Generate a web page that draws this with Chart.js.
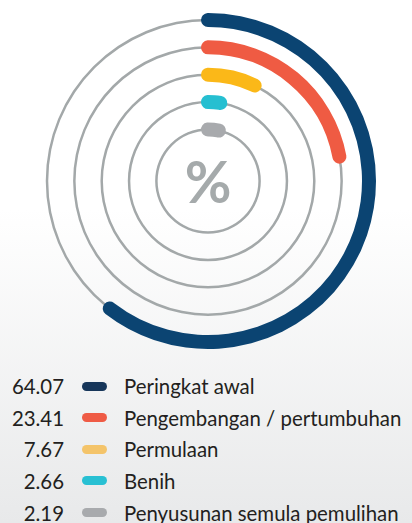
<!DOCTYPE html>
<html><head><meta charset="utf-8">
<script src="https://cdn.jsdelivr.net/npm/chart.js@4/dist/chart.umd.min.js"></script>
<style>
html,body{margin:0;padding:0;}
body{width:412px;height:523px;overflow:hidden;position:relative;
  background:linear-gradient(to bottom,#ffffff 0%,#ffffff 40%,#e8e9ea 100%);
  font-family:Lato,'Open Sans',sans-serif;color:#231f20;}
.chartbox{position:absolute;left:38px;top:11px;width:340px;height:340px;}
.chartbox canvas{position:absolute;left:0;top:0;}
#pct{position:absolute;left:38px;top:11px;width:340px;height:340px;display:flex;align-items:center;justify-content:center;
  font-size:57px;font-weight:700;color:#a5aaab;line-height:1;pointer-events:none;}
.row{position:absolute;left:0;height:32px;display:flex;align-items:center;font-size:20.4px;white-space:nowrap;}
.row .val{width:64px;text-align:right;}
.row .sw{width:25px;height:9px;border-radius:4.5px;margin-left:18px;margin-right:17px;}
</style></head>
<body>
<div class="chartbox" id="boxA"><canvas id="rings" width="340" height="340"></canvas></div>
<div class="chartbox" id="boxB"><canvas id="arcs" width="340" height="340"></canvas></div>
<div id="pct">%</div>
<div id="legend"></div>
<script>
// ---- data ----
const categories = ['Peringkat awal', 'Pengembangan / pertumbuhan', 'Permulaan', 'Benih', 'Penyusunan semula pemulihan'];
const values = [64.07, 23.41, 7.67, 2.66, 2.19];
const valueLabels = ['64.07', '23.41', '7.67', '2.66', '2.19'];

// ---- styling ----
const arcColors = ['#0b4472', '#ef5b43', '#fbb818', '#26bfd1', '#a8aaad'];
const legendColors = ['#17365a', '#ef5b45', '#f4c46a', '#28c0d3', '#a8aaad'];
const ringGray = '#a3a8a9';
const fullScale = 106;             // units per full turn
const minArcPx = 11;               // minimum visible arc length
const ringR = [161, 133.65, 106.3, 78.95, 51.6];
const band = 14, line = 2.5;
const legendRowY = [386, 417.5, 449, 480.8, 512.5];

// gray guide rings
const ringSets = [];
ringR.forEach((r, i) => {
  ringSets.push({data: [1], backgroundColor: ringGray, weight: line, borderWidth: 0});
  if (i < ringR.length - 1) ringSets.push({data: [1], backgroundColor: 'rgba(0,0,0,0)', weight: ringR[i] - ringR[i + 1] - line, borderWidth: 0});
});
const outerA = ringR[0] + line / 2, innerA = ringR[ringR.length - 1] - line / 2;
new Chart(document.getElementById('rings'), {
  type: 'doughnut',
  data: {labels: ['ring'], datasets: ringSets},
  options: {responsive: false, animation: false, events: [], radius: outerA, cutout: (innerA / outerA * 100) + '%',
    layout: {padding: 0}, plugins: {legend: {display: false}, tooltip: {enabled: false}}}
});

// colored value arcs
const arcSets = [];
values.forEach((v, i) => {
  const r = ringR[i];
  const capDeg = (band / 2) / r * 180 / Math.PI;
  const ang = Math.max(v * 360 / fullScale, minArcPx / r * 180 / Math.PI);
  arcSets.push({label: categories[i], data: [v], backgroundColor: arcColors[i], weight: band, borderWidth: 0,
    borderRadius: band / 2, rotation: -capDeg, circumference: ang + 2 * capDeg});
  if (i < values.length - 1) arcSets.push({data: [1], backgroundColor: 'rgba(0,0,0,0)', weight: ringR[i] - ringR[i + 1] - band,
    borderWidth: 0, rotation: 0, circumference: 360});
});
const outerB = ringR[0] + band / 2, innerB = ringR[ringR.length - 1] - band / 2;
new Chart(document.getElementById('arcs'), {
  type: 'doughnut',
  data: {labels: ['value'], datasets: arcSets},
  options: {responsive: false, animation: false, events: [], radius: outerB, cutout: (innerB / outerB * 100) + '%',
    layout: {padding: 0}, plugins: {legend: {display: false}, tooltip: {enabled: false}}}
});

// legend
const lg = document.getElementById('legend');
categories.forEach((c, i) => {
  const row = document.createElement('div');
  row.className = 'row';
  row.style.top = (legendRowY[i] - 16) + 'px';
  row.innerHTML = '<span class="val"></span><span class="sw"></span><span class="lab"></span>';
  row.querySelector('.val').textContent = valueLabels[i];
  row.querySelector('.sw').style.background = legendColors[i];
  row.querySelector('.lab').textContent = c;
  lg.appendChild(row);
});
</script>
</body></html>
